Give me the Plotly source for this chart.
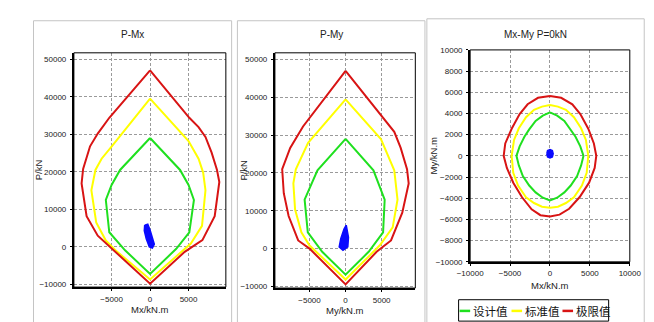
import plotly.graph_objects as go

W, H = 654, 322

# ---------------- data ----------------
# P-Mx panel (Mx kN.m, P kN)
pmx_red_m = [0, 5100, 6300, 7200, 8000, 8700, 9000, 8400, 6800, 4500, 0, -5100, -6800, -8250, -8900, -8700, -7800, -6800, -5300, 0]
pmx_red_p = [47000, 34400, 31900, 29300, 25100, 20500, 17300, 8200, 1800, -1300, -9800, 0, 3000, 8200, 16900, 20800, 26800, 30200, 34400, 47000]
pmx_yel_m = [0, 5000, 6300, 6900, 7200, 6750, 5300, 0, -4500, -5750, -7000, -7630, -7100, -6300, -4900, 0]
pmx_yel_p = [39500, 28200, 23500, 19800, 15100, 5600, 900, -8650, -900, 1700, 6500, 15100, 20500, 23500, 27000, 39500]
pmx_grn_m = [0, 3900, 5000, 5700, 5100, 3400, 0, -3250, -5300, -5750, -5000, -3900, 0]
pmx_grn_p = [29000, 20500, 16500, 12500, 3900, -500, -7200, -900, 3900, 12500, 16500, 20500, 29000]
pmx_blu_m = [-700, -300, 0, 400, 550, 300, -100, -500, -750, -700]
pmx_blu_p = [5800, 6050, 4500, 2000, 700, -300, 0, 2200, 4300, 5800]

# P-My panel (My kN.m, P kN)
pmy_red_m = [0, 5400, 6750, 7640, 8520, 8750, 7860, 6300, 4300, 0, -5000, -6570, -7900, -8570, -8790, -7680, -5900, 0]
pmy_red_p = [47000, 34300, 30900, 26650, 21000, 17240, 9480, 2150, -860, -9480, 0, 2150, 8620, 14650, 21000, 26650, 32300, 47000]
pmy_yel_m = [0, 4900, 6750, 7200, 6530, 4750, 0, -5020, -6130, -7000, -7240, -6900, -5200, 0]
pmy_yel_p = [39500, 29000, 20700, 12930, 5600, 860, -8190, 860, 4310, 10340, 17240, 21000, 28000, 39500]
pmy_grn_m = [0, 3860, 5420, 5200, 3200, 0, -3240, -5240, -5680, -3900, 0]
pmy_grn_p = [29050, 20690, 12930, 4310, -860, -6900, -860, 4310, 12930, 20690, 29050]
pmy_blu_m = [90, 400, 310, -360, -890, -670, -220, 90]
pmy_blu_p = [6200, 3000, 430, -430, 430, 2590, 5170, 6200]

# Mx-My panel at P = 0 kN
mm_red_x = [0, 1400, 2800, 3800, 4800, 5500, 5800, 5600, 4900, 3700, 2400, 1200, 0, -1200, -2300, -3500, -4600, -5400, -5800, -5600, -4800, -3800, -2800, -1500, 0]
mm_red_y = [5650, 5480, 4870, 3940, 2560, 1170, 0, -1140, -2530, -3910, -4990, -5550, -5720, -5600, -5050, -3910, -2530, -1140, 0, 1170, 2560, 3940, 4870, 5480, 5650]
mm_yel_x = [0, 1000, 2000, 3000, 3900, 4500, 4800, 4600, 4000, 3000, 2000, 1000, 0, -1000, -2000, -3000, -4000, -4600, -4800, -4500, -3900, -3000, -2000, -1000, 0]
mm_yel_y = [4800, 4650, 4350, 3650, 2600, 1500, 0, -1600, -2800, -3900, -4450, -4800, -4900, -4800, -4450, -3900, -2800, -1600, 0, 1500, 2600, 3650, 4350, 4650, 4800]
mm_grn_x = [0, 900, 1800, 2600, 3200, 3800, 4200, 3900, 3400, 2600, 1800, 900, 0, -900, -1800, -2600, -3400, -3900, -4200, -3800, -3200, -2600, -1800, -900, 0]
mm_grn_y = [4100, 3800, 3300, 2500, 1800, 900, 0, -900, -1900, -2800, -3450, -3950, -4200, -3950, -3450, -2800, -1900, -900, 0, 900, 1800, 2500, 3300, 3800, 4100]
mm_blu_x = [-400, -300, 0, 300, 400, 300, 0, -300, -400]
mm_blu_y = [200, 500, 600, 500, 200, -100, -200, -100, 200]

legend_names = ["设计值", "标准值", "极限值"]
titles = ["P-Mx", "P-My", "Mx-My P=0kN"]
xtitles = ["Mx/kN.m", "My/kN.m", "Mx/kN.m"]
ytitles = ["P/kN", "P/kN", "My/kN.m"]
p_ticks = [-10000, 0, 10000, 20000, 30000, 40000, 50000]
m_ticks = [-5000, 0, 5000]
mm_xticks = [-10000, -5000, 0, 5000, 10000]
mm_yticks = [-10000, -8000, -6000, -4000, -2000, 0, 2000, 4000, 6000, 8000, 10000]

# ---------------- styles ----------------
RED, YEL, GRN, BLU = "#d81414", "#ffff00", "#1fe01f", "#0a0aff"
FONT = "Liberation Sans, Arial, sans-serif"
CJK = "Noto Sans CJK SC, sans-serif"

def px(x):
    return x / W

def py(y):
    return 1 - y / H

fig = go.Figure()

def add_panel(idx, series, blue):
    xa = "x" if idx == 1 else f"x{idx}"
    ya = "y" if idx == 1 else f"y{idx}"
    for (xs, ys, col) in series:
        fig.add_trace(go.Scatter(x=xs, y=ys, mode="lines", xaxis=xa, yaxis=ya,
                                 line=dict(color=col, width=2), showlegend=False,
                                 hoverinfo="skip"))
    bx, by = blue
    fig.add_trace(go.Scatter(x=bx, y=by, mode="lines", xaxis=xa, yaxis=ya, fill="toself",
                             fillcolor=BLU, line=dict(color=BLU, width=1.5),
                             showlegend=False, hoverinfo="skip"))

add_panel(1, [(pmx_grn_m, pmx_grn_p, GRN), (pmx_yel_m, pmx_yel_p, YEL), (pmx_red_m, pmx_red_p, RED)],
          (pmx_blu_m, pmx_blu_p))
add_panel(2, [(pmy_grn_m, pmy_grn_p, GRN), (pmy_yel_m, pmy_yel_p, YEL), (pmy_red_m, pmy_red_p, RED)],
          (pmy_blu_m, pmy_blu_p))
add_panel(3, [(mm_grn_x, mm_grn_y, GRN), (mm_yel_x, mm_yel_y, YEL), (mm_red_x, mm_red_y, RED)],
          (mm_blu_x, mm_blu_y))

# plot areas in pixels: (left, top, right, bottom)
areas = [(55, 42, 213, 283), (264, 42, 410, 284), (467, 39, 633, 257)]
xranges = [[-9900, 9850], [-9800, 9670], [-10000, 10000]]
yranges = [[-10700, 51700], [-10450, 51800], [-10000, 10000]]
xticks = [m_ticks, m_ticks, mm_xticks]
yticks = [p_ticks, p_ticks, mm_yticks]

axis_common = dict(showline=True, linecolor="black", linewidth=2, ticks="outside", ticklen=2,
                   tickcolor="black", showgrid=True, gridcolor="#9a9a9a", griddash="3px,2px",
                   gridwidth=1, zeroline=False, tickfont=dict(family=FONT, size=8, color="#222"),
                   tickformat="d", fixedrange=True)

layout = {}
for i in range(3):
    l, t, r, b = areas[i]
    k = "" if i == 0 else str(i + 1)
    layout[f"xaxis{k}"] = dict(axis_common, domain=[px(l), px(r)], range=xranges[i],
                               tickvals=xticks[i], anchor=f"y{k}", ticklabelstandoff=1)
    layout[f"yaxis{k}"] = dict(axis_common, domain=[py(b), py(t)], range=yranges[i],
                               tickvals=yticks[i], anchor=f"x{k}", ticklabelstandoff=2)

fig.update_layout(**layout)

shapes = []
annotations = []
panels = [(13, 9, 219, 321), (225, 9, 420, 321), (422, 7, 648, 320)]
for i in range(3):
    x0, y0, x1, y1 = panels[i]
    shapes.append(dict(type="rect", xref="paper", yref="paper", x0=px(x0), x1=px(x1), y0=py(y1), y1=py(y0),
                       line=dict(color="#c4c4c4", width=1), layer="below"))
    k = "" if i == 0 else str(i + 1)
    # thin frame around plot area (top/right)
    shapes.append(dict(type="rect", xref=f"x{k} domain", yref=f"y{k} domain", x0=0, x1=1, y0=0, y1=1,
                       line=dict(color="black", width=1)))
    annotations.append(dict(text=titles[i], xref="paper", yref="paper", x=px((x0 + x1) / 2), y=py(23),
                            showarrow=False, font=dict(family=FONT, size=10, color="#222"),
                            xanchor="center", yanchor="middle"))
    l, t, r, b = areas[i]
    xt_y = [306, 307, 281][i]
    yt_x = [19, 231, 429][i]
    annotations.append(dict(text=xtitles[i], xref="paper", yref="paper", x=px((l + r) / 2), y=py(xt_y),
                            showarrow=False, font=dict(family=FONT, size=9.5, color="#222"),
                            xanchor="center", yanchor="middle"))
    annotations.append(dict(text=ytitles[i], xref="paper", yref="paper", x=px(yt_x), y=py((t + b) / 2),
                            showarrow=False, textangle=-90, font=dict(family=FONT, size=9.5, color="#222"),
                            xanchor="center", yanchor="middle"))

# legend (drawn manually)
shapes.append(dict(type="rect", xref="paper", yref="paper", x0=px(455), x1=px(611), y0=py(318), y1=py(296),
                   line=dict(color="black", width=1), fillcolor="white"))
leg_cols = [GRN, YEL, RED]
leg_x = [456, 510, 563]
for j in range(3):
    x = leg_x[j]
    shapes.append(dict(type="line", xref="paper", yref="paper", x0=px(x), x1=px(x + 11),
                       y0=py(307.5), y1=py(307.5), line=dict(color=leg_cols[j], width=2.5)))
    annotations.append(dict(text=legend_names[j], xref="paper", yref="paper", x=px(x + 12), y=py(307.5),
                            showarrow=False, font=dict(family=CJK, size=11.5, color="#111"),
                            xanchor="left", yanchor="middle"))

fig.update_layout(shapes=shapes, annotations=annotations, width=W, height=H,
                  margin=dict(l=0, r=0, t=0, b=0), paper_bgcolor="white", plot_bgcolor="white",
                  showlegend=False)

fig.write_html("out.html", config={"displayModeBar": False})
